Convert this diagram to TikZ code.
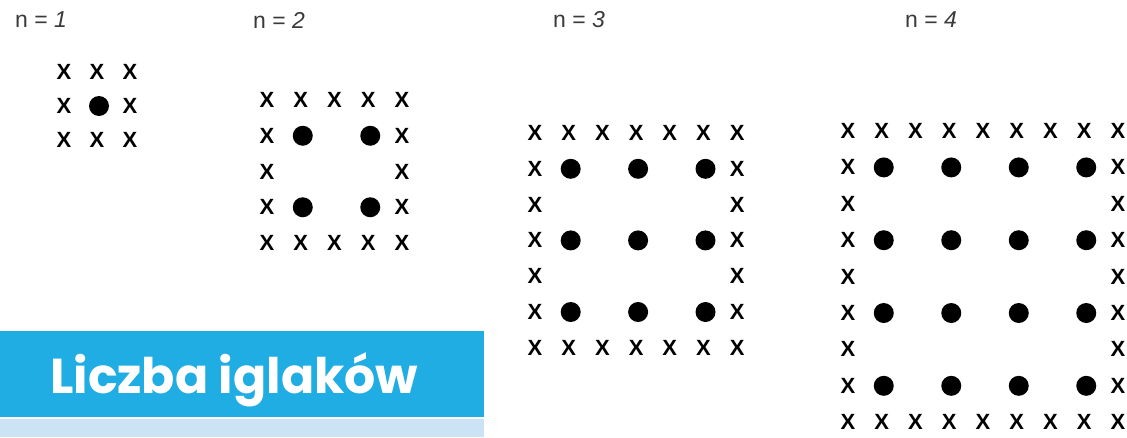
\documentclass[tikz,border=0pt]{standalone}
\usepackage{fontspec}
\setmainfont{Liberation Sans}
\newfontfamily\bannerfont{Poppins}
\definecolor{bannerblue}{HTML}{1FADE4}
\definecolor{bannerlight}{HTML}{CCE3F5}
\definecolor{labelgray}{HTML}{3A3A3A}
\begin{document}
\begin{tikzpicture}[x=1pt,y=-1pt,
  xmark/.style={inner sep=0pt,font=\bfseries\fontsize{22}{22}\selectfont},
  dotmark/.style={circle,fill=black,inner sep=0pt,minimum size=20pt},
  nlabel/.style={anchor=west,inner sep=0pt,text=labelgray,font=\fontsize{23}{23}\selectfont},
  bannertext/.style={anchor=base west,inner sep=0pt,text=white,font=\bannerfont\bfseries\fontsize{49}{49}\selectfont}]
\useasboundingbox (0,0) rectangle (1127,437);
% labels
\node[nlabel] (l1) at (15,20) {n = \textit{1}};
\node[nlabel] (l2) at (253,20) {n = \textit{2}};
\node[nlabel] (l3) at (553,20) {n = \textit{3}};
\node[nlabel] (l4) at (905,20) {n = \textit{4}};
% grids: name, size N, x0, dx, y0, dy
\foreach \g/\N/\xo/\dx/\yo/\dy in {a/3/64/33/72/34, b/5/267/33.75/100/35.75, c/7/535/33.7/133/35.8, d/9/848/33.75/131/36.4}{
  \pgfmathtruncatemacro{\M}{\N-1}
  \foreach \i in {0,...,\M}{
    \foreach \j in {0,...,\M}{
      \pgfmathtruncatemacro{\border}{(\i==0)||(\j==0)||(\i==\M)||(\j==\M)}
      \pgfmathtruncatemacro{\isdot}{(mod(\i,2)==1)&&(mod(\j,2)==1)}
      \ifnum\border=1
        \node[xmark] (\g-\i-\j) at (\xo+\i*\dx,\yo+\j*\dy) {X};
      \else\ifnum\isdot=1
        \node[dotmark] (\g-\i-\j) at (\xo+\i*\dx+2,\yo+\j*\dy) {};
      \fi\fi
    }
  }
}
% banner
\fill[bannerblue] (0,331) rectangle (484,417);
\fill[bannerlight] (0,419) rectangle (484,437);
\node[bannertext] (title) at (50,393) {Liczba iglaków};
\end{tikzpicture}
\end{document}
